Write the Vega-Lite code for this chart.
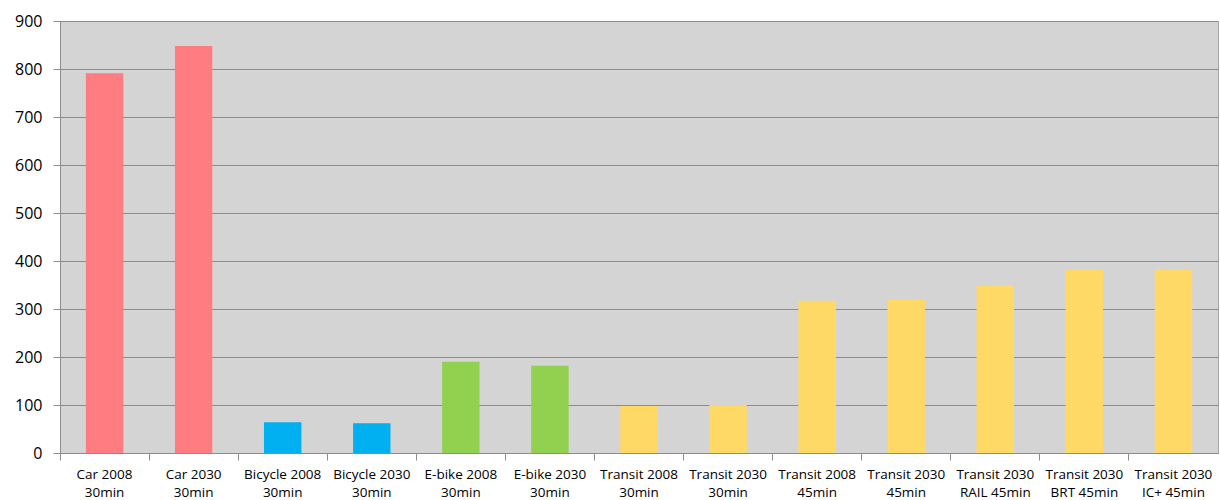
{
  "$schema": "https://vega.github.io/schema/vega-lite/v6.json",
  "autosize": {"type": "none"},
  "padding": {"left": 60, "top": 21, "right": 2, "bottom": 47},
  "width": 1158,
  "height": 432,
  "background": "#ffffff",
  "config": {
    "view": {"fill": "#d4d4d4", "stroke": "#a6a6a6", "strokeWidth": 1},
    "font": "Open Sans"
  },
  "data": {
    "values": [
      {"category": "Car 2008\n30min", "mode": "Car", "value": 791},
      {"category": "Car 2030\n30min", "mode": "Car", "value": 848},
      {"category": "Bicycle 2008\n30min", "mode": "Bicycle", "value": 64},
      {"category": "Bicycle 2030\n30min", "mode": "Bicycle", "value": 62},
      {"category": "E-bike 2008\n30min", "mode": "E-bike", "value": 190},
      {"category": "E-bike 2030\n30min", "mode": "E-bike", "value": 182},
      {"category": "Transit 2008\n30min", "mode": "Transit", "value": 98},
      {"category": "Transit 2030\n30min", "mode": "Transit", "value": 100},
      {"category": "Transit 2008\n45min", "mode": "Transit", "value": 317},
      {"category": "Transit 2030\n45min", "mode": "Transit", "value": 319},
      {"category": "Transit 2030\nRAIL 45min", "mode": "Transit", "value": 350},
      {"category": "Transit 2030\nBRT 45min", "mode": "Transit", "value": 381},
      {"category": "Transit 2030\nIC+ 45min", "mode": "Transit", "value": 383}
    ]
  },
  "mark": {"type": "bar", "width": {"band": 0.42}},
  "encoding": {
    "x": {
      "field": "category",
      "type": "nominal",
      "sort": null,
      "scale": {"paddingInner": 0, "paddingOuter": 0},
      "axis": {
        "title": null,
        "labelAngle": 0,
        "labelExpr": "split(datum.value, '\\n')",
        "labelFontSize": 13.5,
        "labelColor": "#000000",
        "labelLineHeight": 18,
        "labelBaseline": "top",
        "labelPadding": 7,
        "tickSize": 7,
        "tickColor": "#8c8c8c",
        "domainColor": "#8c8c8c",
        "bandPosition": 0,
        "grid": false,
        "labelFont": "Open Sans"
      }
    },
    "y": {
      "field": "value",
      "type": "quantitative",
      "scale": {"domain": [0, 900], "nice": false},
      "axis": {
        "title": null,
        "values": [0, 100, 200, 300, 400, 500, 600, 700, 800, 900],
        "labelFontSize": 16,
        "labelColor": "#000000",
        "labelPadding": 11,
        "tickSize": 7,
        "tickColor": "#8c8c8c",
        "domainColor": "#8c8c8c",
        "gridColor": "#8c8c8c",
        "gridOpacity": 1,
        "gridWidth": 1,
        "labelFont": "Open Sans"
      }
    },
    "color": {
      "field": "mode",
      "type": "nominal",
      "scale": {
        "domain": ["Car", "Bicycle", "E-bike", "Transit"],
        "range": ["#ff7c80", "#00b0f0", "#92d050", "#ffd966"]
      },
      "legend": null
    }
  }
}
